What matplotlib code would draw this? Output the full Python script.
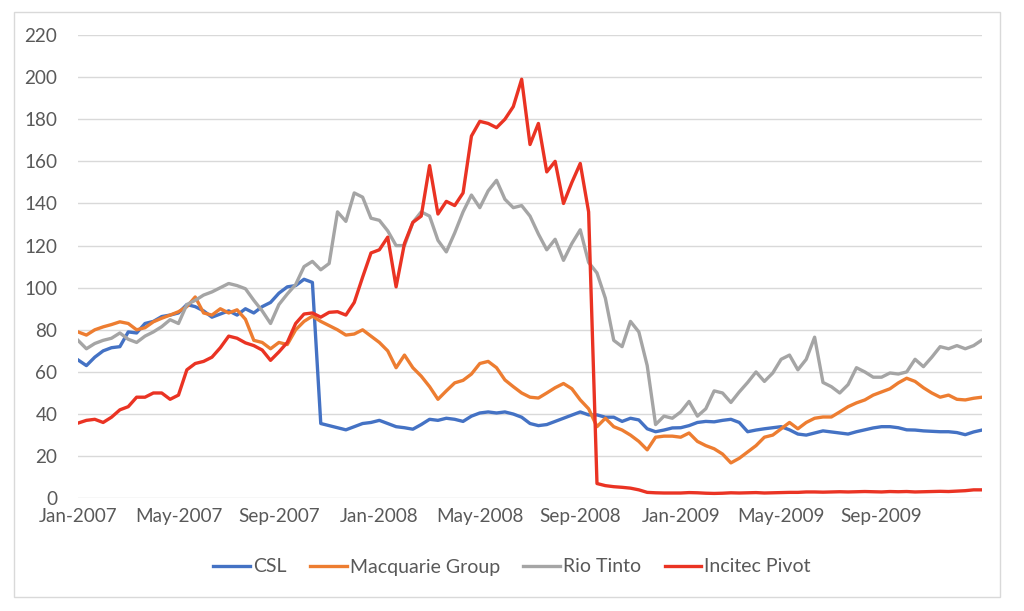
import matplotlib.pyplot as plt
from matplotlib.patches import Rectangle
import numpy as np

# month offsets from Jan-2007, one reading every third of a month
months = np.arange(109) / 3.0

tick_months = [0, 4, 8, 12, 16, 20, 24, 28, 32]
tick_labels = ['Jan-2007', 'May-2007', 'Sep-2007', 'Jan-2008', 'May-2008',
               'Sep-2008', 'Jan-2009', 'May-2009', 'Sep-2009']

csl = [65.7, 63, 67, 70, 71.5, 72, 79, 78.5, 83, 84,
       86.3, 87, 88, 92, 91, 89, 86, 87.5, 89, 87,
       90, 88, 91, 93, 97.4, 100.4, 101, 104, 102.5, 35.5,
       34.5, 33.5, 32.5, 34, 35.5, 36, 37, 35.5, 34, 33.5,
       32.8, 35, 37.5, 37, 38, 37.5, 36.5, 39, 40.5, 41,
       40.5, 41, 40, 38.5, 35.5, 34.5, 35, 36.5, 38, 39.5,
       41, 39.6, 39.6, 38.5, 38.5, 36.5, 38, 37.2, 33, 31.6,
       32.4, 33.4, 33.5, 34.5, 36, 36.5, 36.3, 37, 37.5, 36,
       31.6, 32.4, 33, 33.5, 34, 32.5, 30.5, 30, 31, 32,
       31.5, 31, 30.5, 31.6, 32.5, 33.4, 34, 34, 33.5, 32.5,
       32.4, 32, 31.8, 31.6, 31.6, 31.2, 30.2, 31.5, 32.4]

macquarie = [79, 77.5, 80, 81.4, 82.5, 83.8, 83, 80, 81, 83.8,
             85.5, 87, 88.6, 91, 95.6, 88, 87, 90, 88, 89.5,
             85, 75, 74, 71, 74, 73, 80, 84, 86.5, 84,
             82, 80, 77.5, 78, 80, 77, 74, 70, 62, 68,
             62, 58, 53, 47, 51, 54.8, 56, 59, 64, 65,
             62, 56.2, 53, 50, 48, 47.6, 50, 52.5, 54.5, 52,
             46.7, 42.5, 34, 38, 34, 32.4, 30, 27, 23, 29,
             29.5, 29.5, 29, 31, 27, 25, 23.5, 21, 16.8, 19,
             22, 25, 29, 30, 33, 36, 33, 36, 38, 38.6,
             38.6, 41, 43.5, 45.3, 46.7, 49, 50.5, 52, 54.8, 57,
             55.5, 52.5, 50, 48, 49, 47, 46.7, 47.5, 48]

rio_tinto = [75, 71, 73.5, 75, 76, 78.5, 75.5, 74, 77, 79,
             81.5, 84.8, 83, 92, 94, 96.5, 98, 100, 102, 101,
             99.5, 94, 89, 83, 92, 97, 101.5, 110, 112.5, 108.5,
             111.5, 136, 131.5, 145, 143, 133, 132, 127, 120, 120,
             131, 136, 134, 122.5, 117, 126, 136, 144, 138, 146,
             151, 142, 138, 139, 134, 125.5, 118, 123, 113, 121,
             127.5, 112, 107, 95, 75, 72, 84, 79, 63, 35,
             39, 38, 41, 46, 39, 42.5, 51, 50, 45.5, 50.5,
             55, 60, 55.5, 59.5, 66, 68, 61, 66, 76.5, 55,
             53, 50, 54, 62, 60, 57.5, 57.5, 59.5, 59, 60,
             66, 62.5, 67, 72, 71, 72.5, 71, 72.5, 75.2]

incitec = [35.7, 37, 37.5, 36, 38.5, 42, 43.5, 48, 48, 50,
           50, 47, 49, 61, 64, 65, 67, 71.5, 77, 76,
           73.8, 72.5, 70.4, 65.5, 69.5, 74, 83, 87.5, 88, 86,
           88.3, 88.6, 87, 93, 105, 116.5, 118, 124, 100.4, 121,
           131, 134, 158, 135, 141, 139, 145, 172, 179, 178,
           176, 180, 186, 199, 168, 178, 155, 160, 140, 150,
           159, 136, 7, 6, 5.5, 5.2, 4.8, 4, 2.8, 2.6,
           2.5, 2.5, 2.5, 2.7, 2.6, 2.4, 2.3, 2.4, 2.6, 2.5,
           2.6, 2.7, 2.5, 2.6, 2.7, 2.8, 2.8, 3, 3, 2.9,
           3, 3.1, 3, 3.1, 3.2, 3.1, 3, 3.2, 3.1, 3.2,
           3, 3.1, 3.2, 3.3, 3.2, 3.4, 3.6, 4, 4]

series = [('CSL', csl, '#4472C4'),
          ('Macquarie Group', macquarie, '#ED7D31'),
          ('Rio Tinto', rio_tinto, '#A5A5A5'),
          ('Incitec Pivot', incitec, '#EA3323')]

plt.rcParams['font.family'] = ['Lato', 'DejaVu Sans']
text_col = '#595959'

fig = plt.figure(figsize=(10.24, 6.11), dpi=100)
fig.add_artist(Rectangle((14 / 1024, 1 - 597 / 611), 986 / 1024, 585 / 611,
                         transform=fig.transFigure, fill=False,
                         edgecolor='#D9D9D9', linewidth=1))
ax = fig.add_axes([0.0762, 0.1845, 0.8828, 0.7582])

for name, vals, col in series:
    ax.plot(months, vals, color=col, linewidth=2.4, label=name,
            solid_joinstyle='round')

ax.set_xlim(0, 36)
ax.set_ylim(0, 220)
ax.set_yticks(range(0, 221, 20))
ax.set_xticks(tick_months)
ax.set_xticklabels(tick_labels)
ax.grid(axis='y', color='#D9D9D9', linewidth=1)
ax.set_axisbelow(True)
for s in ax.spines.values():
    s.set_visible(False)
ax.tick_params(length=0, labelsize=13.6, colors=text_col)
ax.tick_params(axis='y', pad=15)
ax.tick_params(axis='x', pad=7)

leg = fig.legend(loc='center', bbox_to_anchor=(0.5, 1 - 567 / 611), ncol=4,
                 frameon=False, fontsize=14, handlelength=1.9,
                 columnspacing=1.2, handletextpad=0.15)
for t in leg.get_texts():
    t.set_color(text_col)

fig.savefig('out.png', dpi=100)
